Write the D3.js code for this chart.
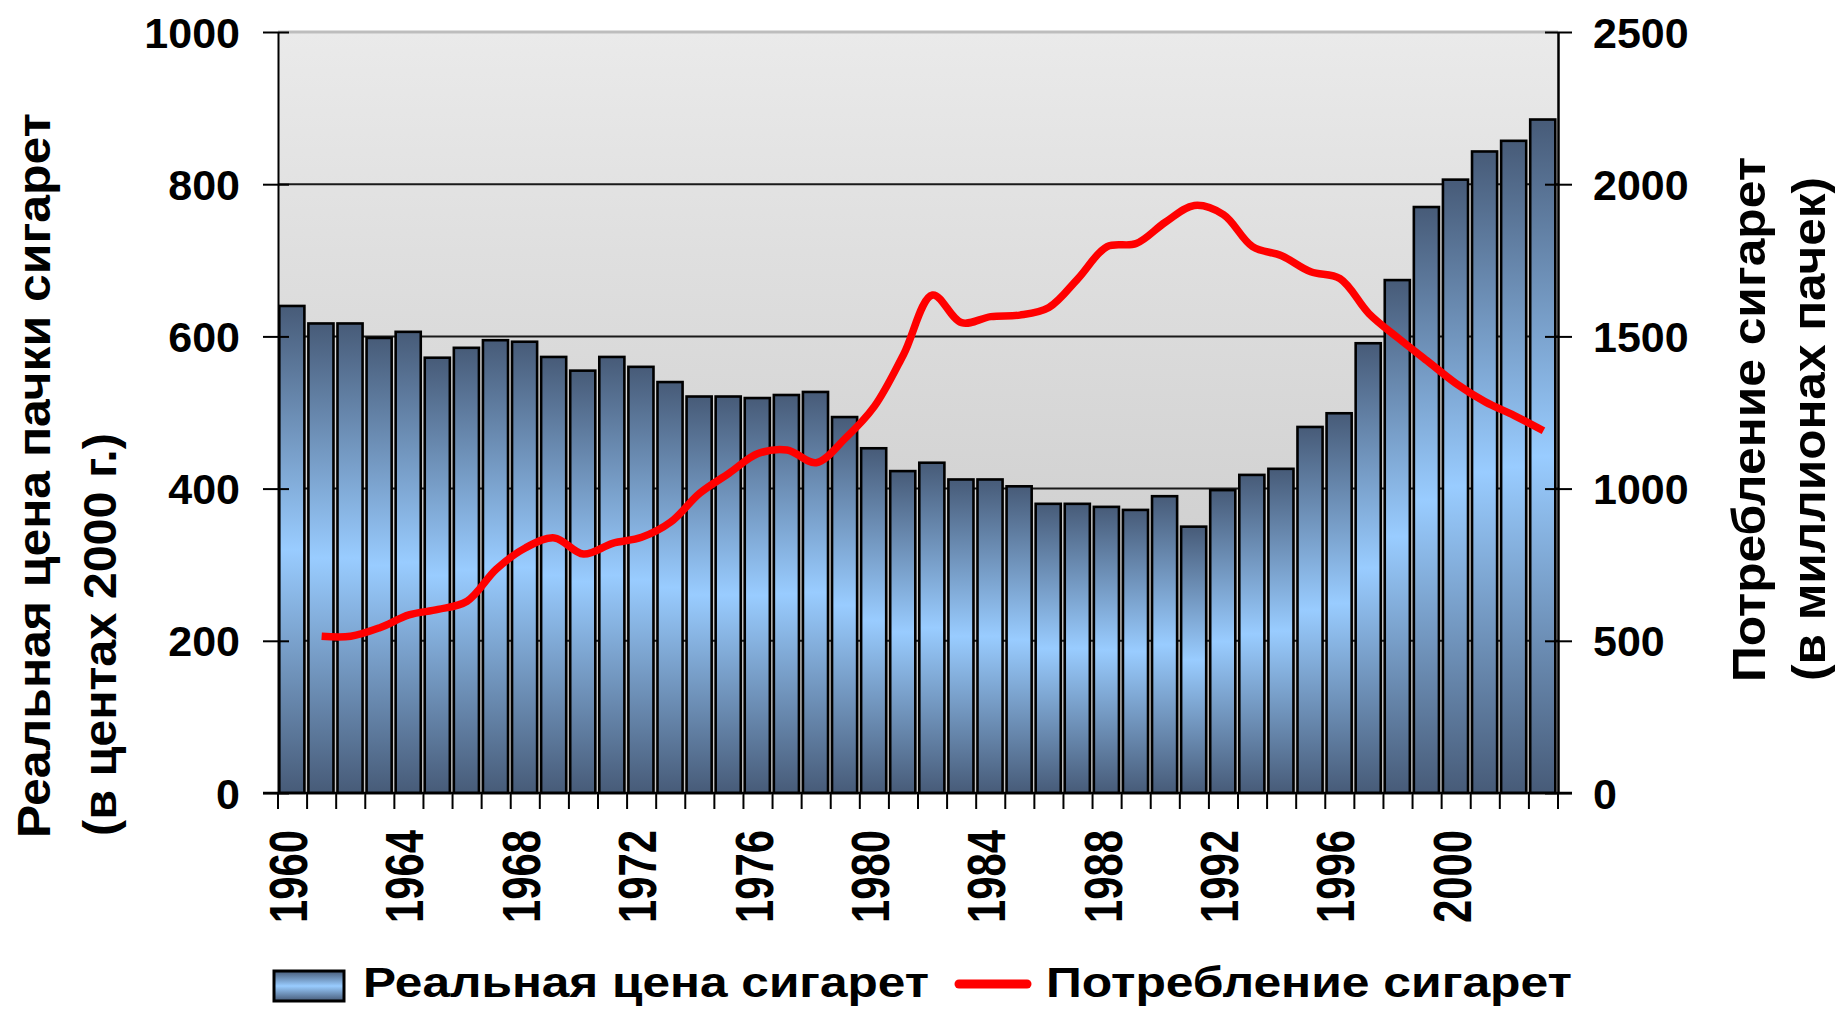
<!DOCTYPE html>
<html>
<head>
<meta charset="utf-8">
<script src="https://cdn.jsdelivr.net/npm/d3@7"></script>
<style>
  body { margin: 0; background: #fff; }
  text { font-family: "Liberation Sans", Arial, sans-serif; font-weight: bold; fill: #000; }
</style>
</head>
<body>
<div id="chart"></div>
<script>
// categories (years)
const years = [1960, 1961, 1962, 1963, 1964, 1965, 1966, 1967, 1968, 1969,
  1970, 1971, 1972, 1973, 1974, 1975, 1976, 1977, 1978, 1979,
  1980, 1981, 1982, 1983, 1984, 1985, 1986, 1987, 1988, 1989,
  1990, 1991, 1992, 1993, 1994, 1995, 1996, 1997, 1998, 1999,
  2000, 2001, 2002, 2003];

// real price of a pack, cents of 2000 (left axis)
const price = [640, 617, 617, 598, 606, 572, 585, 595, 593, 573,
  555, 573, 560, 540, 521, 521, 519, 523, 527, 494,
  453, 423, 434, 412, 412, 403, 380, 380, 376, 372,
  390, 350, 398, 418, 426, 481, 499, 591, 674, 770,
  806, 843, 857, 885];

// consumption, millions of packs (right axis), starts in 1961
const consumptionYears = [1961, 1962, 1963, 1964, 1965, 1966, 1967, 1968, 1969,
  1970, 1971, 1972, 1973, 1974, 1975, 1976, 1977, 1978, 1979,
  1980, 1981, 1982, 1983, 1984, 1985, 1986, 1987, 1988, 1989,
  1990, 1991, 1992, 1993, 1994, 1995, 1996, 1997, 1998, 1999,
  2000, 2001, 2002, 2003];
const consumption = [515, 515, 543, 585, 603, 630, 735, 805, 838,
  785, 820, 840, 890, 985, 1050, 1115, 1127, 1085, 1165,
  1270, 1440, 1636, 1545, 1565, 1570, 1595, 1690, 1795, 1805,
  1875, 1930, 1900, 1795, 1765, 1712, 1690, 1575, 1495, 1420,
  1345, 1285, 1240, 1190];

// tick labels
const leftTicks = [0, 200, 400, 600, 800, 1000];
const rightTicks = [0, 500, 1000, 1500, 2000, 2500];
const gridTicks = [200, 400, 600, 800];
const labelYears = [1960, 1964, 1968, 1972, 1976, 1980, 1984, 1988, 1992, 1996, 2000];

const width = 1837, height = 1010;
const plot = { left: 278, right: 1558, top: 32, bottom: 793 };

const svg = d3.select("#chart").append("svg")
  .attr("width", width)
  .attr("height", height);

// gradients
const defs = svg.append("defs");
const bg = defs.append("linearGradient").attr("id", "bg")
  .attr("x1", 0).attr("y1", 0).attr("x2", 0).attr("y2", 1);
bg.append("stop").attr("offset", "0%").attr("stop-color", "#eaeaea");
bg.append("stop").attr("offset", "100%").attr("stop-color", "#c4c4c4");

const barGrad = defs.append("linearGradient").attr("id", "barGrad")
  .attr("x1", 0).attr("y1", 0).attr("x2", 0).attr("y2", 1);
barGrad.append("stop").attr("offset", "0%").attr("stop-color", "#475b78");
barGrad.append("stop").attr("offset", "50%").attr("stop-color", "#99ccff");
barGrad.append("stop").attr("offset", "100%").attr("stop-color", "#475b78");

// scales
const x = d3.scaleBand().domain(years).range([plot.left, plot.right]).padding(0);
const yL = d3.scaleLinear().domain([0, 1000]).range([plot.bottom, plot.top]);
const yR = d3.scaleLinear().domain([0, 2500]).range([plot.bottom, plot.top]);
const step = x.bandwidth();

// plot background
svg.append("rect")
  .attr("x", plot.left).attr("y", plot.top)
  .attr("width", plot.right - plot.left).attr("height", plot.bottom - plot.top)
  .attr("fill", "url(#bg)");
svg.append("line")
  .attr("x1", plot.left).attr("x2", plot.right).attr("y1", plot.top).attr("y2", plot.top)
  .attr("stroke", "#bdbdbd").attr("stroke-width", 3);

// gridlines
svg.append("g")
  .selectAll("line")
  .data(gridTicks)
  .enter()
  .append("line")
  .attr("x1", plot.left).attr("x2", plot.right)
  .attr("y1", d => yL(d)).attr("y2", d => yL(d))
  .attr("stroke", "#1a1a1a").attr("stroke-width", 2);

// bars
svg.append("g")
  .selectAll("rect")
  .data(years)
  .enter()
  .append("rect")
  .attr("x", d => x(d) + 1.3)
  .attr("y", (d, i) => yL(price[i]))
  .attr("width", step - 4)
  .attr("height", (d, i) => plot.bottom - yL(price[i]))
  .attr("fill", "url(#barGrad)")
  .attr("stroke", "#000")
  .attr("stroke-width", 2.6);

// consumption line
const line = d3.line()
  .x(d => x(d[0]) + step / 2)
  .y(d => yR(d[1]))
  .curve(d3.curveCatmullRom.alpha(0.5));
svg.append("path")
  .datum(consumptionYears.map((yr, i) => [yr, consumption[i]]))
  .attr("d", line)
  .attr("fill", "none")
  .attr("stroke", "#ff0000")
  .attr("stroke-width", 7.5)
  .attr("stroke-linejoin", "round");

// left axis
const leftAxis = svg.append("g")
  .attr("transform", `translate(${plot.left},0)`)
  .call(d3.axisLeft(yL).tickValues(leftTicks).tickFormat(d3.format("d"))
    .tickSize(15).tickPadding(23).tickSizeOuter(0));
leftAxis.select(".domain").attr("stroke", "#000").attr("stroke-width", 2);
leftAxis.selectAll(".tick line").attr("x1", 11).attr("stroke-width", 2);
leftAxis.selectAll(".tick text")
  .attr("font-size", 43).attr("dy", "0.35em")
  .style("font-family", '"Liberation Sans", Arial, sans-serif').style("font-weight", "bold");

// right axis
const rightAxis = svg.append("g")
  .attr("transform", `translate(${plot.right},0)`)
  .call(d3.axisRight(yR).tickValues(rightTicks).tickFormat(d3.format("d"))
    .tickSize(14).tickPadding(21).tickSizeOuter(0));
rightAxis.select(".domain").attr("stroke", "#000").attr("stroke-width", 2.5);
rightAxis.selectAll(".tick line").attr("x1", -13).attr("stroke-width", 2);
rightAxis.selectAll(".tick text")
  .attr("font-size", 43).attr("dy", "0.35em")
  .style("font-family", '"Liberation Sans", Arial, sans-serif').style("font-weight", "bold");

// bottom axis line and category boundary ticks
svg.append("line")
  .attr("x1", plot.left - 15).attr("x2", plot.right + 14)
  .attr("y1", plot.bottom).attr("y2", plot.bottom)
  .attr("stroke", "#000").attr("stroke-width", 2.5);
svg.append("g")
  .selectAll("line")
  .data(years.concat(["end"]))
  .enter()
  .append("line")
  .attr("x1", d => d === "end" ? plot.right : x(d))
  .attr("x2", d => d === "end" ? plot.right : x(d))
  .attr("y1", plot.bottom).attr("y2", plot.bottom + 16)
  .attr("stroke", "#000").attr("stroke-width", 2);

// x labels, rotated
svg.append("g")
  .selectAll("text")
  .data(labelYears)
  .enter()
  .append("text")
  .attr("transform", d => `translate(${x(d) + step / 2 - 4.5 + 19},923) rotate(-90)`)
  .attr("font-size", 54)
  .attr("textLength", 93)
  .attr("lengthAdjust", "spacingAndGlyphs")
  .text(d => d);

// axis titles
const titles = [
  { text: "Реальная цена пачки сигарет", x: 50, y: 838, len: 725, size: 46 },
  { text: "(в центах 2000 г.)", x: 116, y: 836, len: 403, size: 46 },
  { text: "Потребление сигарет", x: 1765, y: 682, len: 525, size: 47 },
  { text: "(в миллионах пачек)", x: 1825, y: 681, len: 504, size: 47 }
];
svg.append("g")
  .selectAll("text")
  .data(titles)
  .enter()
  .append("text")
  .attr("transform", d => `translate(${d.x},${d.y}) rotate(-90)`)
  .attr("font-size", d => d.size)
  .attr("textLength", d => d.len)
  .attr("lengthAdjust", "spacingAndGlyphs")
  .text(d => d.text);

// legend
const legend = svg.append("g");
legend.append("rect")
  .attr("x", 274).attr("y", 971).attr("width", 70).attr("height", 30)
  .attr("fill", "url(#barGrad)").attr("stroke", "#000").attr("stroke-width", 3);
legend.append("text")
  .attr("x", 363).attr("y", 997)
  .attr("font-size", 42)
  .attr("textLength", 566).attr("lengthAdjust", "spacingAndGlyphs")
  .text("Реальная цена сигарет");
legend.append("line")
  .attr("x1", 959).attr("x2", 1027).attr("y1", 984).attr("y2", 984)
  .attr("stroke", "#ff0000").attr("stroke-width", 9).attr("stroke-linecap", "round");
legend.append("text")
  .attr("x", 1046).attr("y", 997)
  .attr("font-size", 42)
  .attr("textLength", 526).attr("lengthAdjust", "spacingAndGlyphs")
  .text("Потребление сигарет");
</script>
</body>
</html>
